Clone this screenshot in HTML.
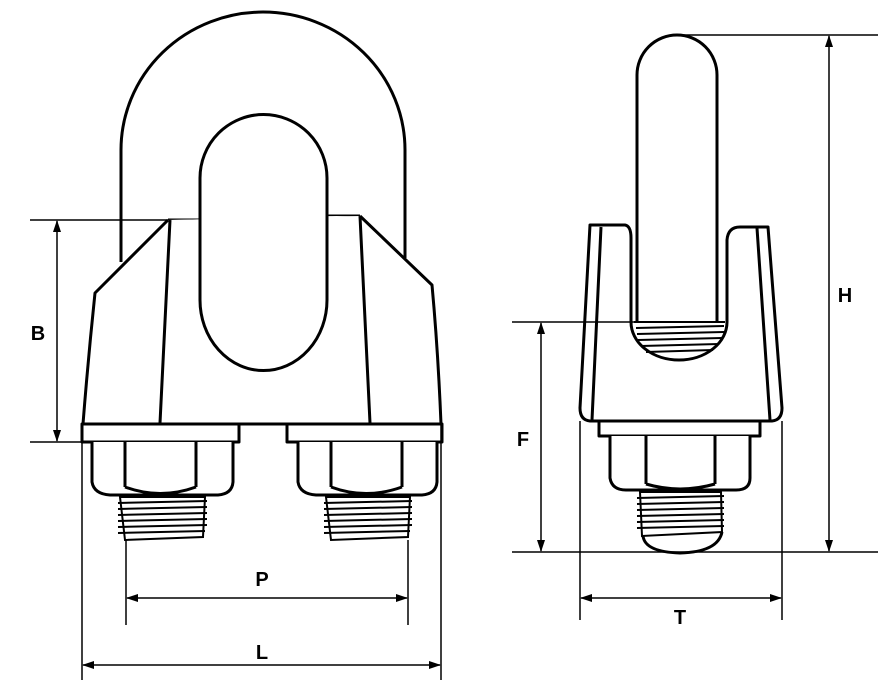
<!DOCTYPE html>
<html><head><meta charset="utf-8"><style>html,body{margin:0;padding:0;background:#fff}svg{display:block}</style></head>
<body>
<svg width="888" height="683" viewBox="0 0 888 683" xmlns="http://www.w3.org/2000/svg">
<defs>
<marker id="a" markerWidth="12" markerHeight="8" refX="11" refY="4" orient="auto-start-reverse" markerUnits="userSpaceOnUse"><path d="M0,0 L12,4 L0,8 Z" fill="#000"/></marker>
</defs>
<g fill="none" stroke="#000" stroke-width="3" stroke-linejoin="round">
<!-- LEFT VIEW -->
<!-- U bolt outer -->
<path d="M121,262 L121,150 A142,138 0 0 1 405,150 L405,258" fill="#fff"/>
<!-- saddle -->
<path d="M168,220 L200,220 M327,216 L360,216" />
<path d="M168,220 L95,293 Q88,360 83,424 L441,424 Q438,350 432,285 L360,216 L360,216" fill="#fff"/>
<path d="M168,220 L200,220 L200,300 A63,63 0 0 0 327,300 L327,216 L360,216" fill="#fff" stroke="none"/>
<path d="M170,220 L160,423 M360,216 L370,423"/>
<!-- inner stadium of bolt -->
<path d="M200,300 L200,178 A63,63 0 0 1 327,178 L327,300 A63,70 0 0 1 200,300 Z" fill="#fff"/>
<!-- plates -->
<rect x="82" y="424" width="157" height="18" fill="#fff"/>
<rect x="287" y="424" width="155" height="18" fill="#fff"/>
<!-- nuts -->
<path d="M92,442 L92,482 Q94,494 110,495 L218,495 Q232,494 233,482 L233,442" fill="#fff"/>
<path d="M125,442 L125,487 M196,442 L196,487 M125,487 Q160,500 196,487"/>
<path d="M298,442 L298,482 Q300,494 316,495 L422,495 Q436,494 437,482 L437,442" fill="#fff"/>
<path d="M331,442 L331,487 M402,442 L402,487 M331,487 Q366,500 402,487"/>
</g>
<g fill="none" stroke="#000" stroke-width="2">
<path d="M120,497 L205,497 L203,537 L125,540 Z" fill="#fff"/>
<path d="M118,503 L207,501 M118,509 L207,507 M118,515 L207,513 M118,521 L207,519 M118,527 L207,525 M118,533 L205,531"/>
<path d="M326,497 L410,497 L408,537 L331,540 Z" fill="#fff"/>
<path d="M324,503 L412,501 M324,509 L412,507 M324,515 L412,513 M324,521 L412,519 M324,527 L412,525 M324,533 L410,531"/>
</g>
<!-- RIGHT VIEW -->
<g fill="none" stroke="#000" stroke-width="3" stroke-linejoin="round">
<path d="M637,322 L637,75 A40,40 0 0 1 717,75 L717,322" fill="#fff"/>
<path d="M590,225 L625,225 Q631,226 631,238 L631,322 A48,38 0 0 0 727,322 L727,240 Q728,227 740,227 L768,227 L782,408 Q782,420 772,421 L590,421 Q580,420 580,408 Z" fill="#fff"/>
<path d="M637,240 L637,322 M717,240 L717,322"/>
<path d="M601,227 L592,420 M757,228 L770,420"/>
<rect x="599" y="421" width="161" height="15" fill="#fff"/>
<path d="M610,436 L610,478 Q612,490 626,490 L736,490 Q750,490 750,478 L750,436" fill="#fff"/>
<path d="M646,436 L646,484 M715,436 L715,484 M646,484 Q680,494 715,484"/>
</g>
<g fill="none" stroke="#000" stroke-width="2">
<path d="M634,322 L725,322" />
<path d="M636,328 L724,326 M637,334 L724,332 M638,340 L722,338 M641,346 L719,344 M646,352 L713,350"/>
<path d="M640,492 L721,492 L722,532 L642,536 Z" fill="#fff"/>
<path d="M637,498 L724,496 M637,504 L724,502 M637,510 L724,508 M637,516 L724,514 M637,522 L724,520 M637,528 L724,526"/>
<path d="M643,536 Q645,552 680,553 Q718,552 722,532" stroke-width="3"/>
</g>
<!-- DIMENSIONS -->
<g fill="none" stroke="#000" stroke-width="1.5">
<path d="M30,220 L168,220 M30,442 L82,442"/>
<path d="M82,442 L82,680 M441,424 L441,680 M126,540 L126,625 M408,540 L408,625"/>
<path d="M680,35 L878,35 M512,322 L637,322 M512,552 L878,552"/>
<path d="M580,421 L580,620 M782,421 L782,620"/>
<line x1="57" y1="221" x2="57" y2="441" marker-start="url(#a)" marker-end="url(#a)"/>
<line x1="127" y1="598" x2="407" y2="598" marker-start="url(#a)" marker-end="url(#a)"/>
<line x1="83" y1="665" x2="440" y2="665" marker-start="url(#a)" marker-end="url(#a)"/>
<line x1="829" y1="36" x2="829" y2="551" marker-start="url(#a)" marker-end="url(#a)"/>
<line x1="541" y1="323" x2="541" y2="551" marker-start="url(#a)" marker-end="url(#a)"/>
<line x1="581" y1="598" x2="781" y2="598" marker-start="url(#a)" marker-end="url(#a)"/>
</g>
<g font-family="Liberation Sans, sans-serif" font-weight="bold" font-size="20" text-anchor="middle">
<text x="38" y="340">B</text>
<text x="262" y="586">P</text>
<text x="262" y="659">L</text>
<text x="845" y="302">H</text>
<text x="523" y="446">F</text>
<text x="680" y="624">T</text>
</g>
</svg>
</body></html>
